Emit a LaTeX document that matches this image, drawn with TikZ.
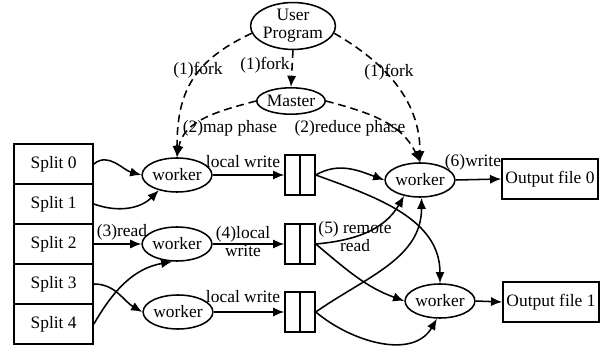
\documentclass[tikz,border=0pt]{standalone}
\usepackage{fontspec}
\setmainfont{Liberation Serif}
\usetikzlibrary{arrows.meta,shapes.geometric}

\begin{document}
\begin{tikzpicture}[
  font=\fontsize{12.4}{12.8}\selectfont,
  line width=1.1pt,
  split/.style={draw, minimum width=1.975cm, minimum height=1cm},
  wk/.style={draw, ellipse, inner sep=0pt, minimum width=1.7cm, minimum height=0.85cm},
  bar/.style={draw, minimum width=0.75cm, minimum height=1cm},
  outf/.style={draw, minimum width=2.4cm, minimum height=1cm, inner sep=1pt},
  lab/.style={inner sep=1pt, align=center},
  flow/.style={-{Latex[length=2.8mm,width=2.3mm]}},
  fork/.style={flow, dash pattern=on 5.5pt off 3.5pt}
]
\useasboundingbox (0,0) rectangle (15.2,8.8);
% control
\node[wk, align=center, minimum width=1.975cm, minimum height=1.1cm] (up) at (7.325,8.15) {User\\Program};
\node[wk, minimum height=0.66cm] (ms) at (7.275,6.275) {Master};
% input splits
\node[split] (s0) at (1.34,4.7) {Split 0};
\node[split] (s1) at (1.34,3.7) {Split 1};
\node[split] (s2) at (1.34,2.7) {Split 2};
\node[split] (s3) at (1.34,1.7) {Split 3};
\node[split] (s4) at (1.34,0.7) {Split 4};
% map workers
\node[wk] (w1) at (4.425,4.425) {worker};
\node[wk] (w2) at (4.425,2.7) {worker};
\node[wk] (w3) at (4.45,1.0) {worker};
% intermediate files
\node[bar] (b1) at (7.5,4.425) {};
\node[bar] (b2) at (7.5,2.7) {};
\node[bar] (b3) at (7.5,1.0) {};
\draw (b1.north) -- (b1.south);
\draw (b2.north) -- (b2.south);
\draw (b3.north) -- (b3.south);
% reduce workers and output
\node[wk] (r1) at (10.5,4.3) {worker};
\node[wk] (r2) at (11.0,1.275) {worker};
\node[outf] (o1) at (13.75,4.325) {Output file 0};
\node[outf] (o2) at (13.775,1.25) {Output file 1};

% fork and assign
\draw[fork] (up.190) to[out=205, in=90, looseness=1.15] (w1.north);
\draw[fork] (up.south) -- (ms.north);
\draw[fork] (up.-10) to[out=-30, in=90] (r1.north);
\draw[fork] (ms.west) to[out=195, in=80] (w1.north);
\draw[fork] (ms.east) to[out=-15, in=115] (r1.north);
\node[lab] (f1) at (4.95,7.05) {(1)fork};
\node[lab] (f2) at (6.625,7.175) {(1)fork};
\node[lab] (f3) at (9.725,7.0) {(1)fork};
\node[lab] (mp) at (5.75,5.6) {(2)map phase};
\node[lab] (rp) at (8.75,5.6) {(2)reduce phase};

% map side
\draw[flow] (s0.east) to[out=40, in=165] (w1.west);
\draw[flow] (s1.east) to[out=-20, in=-135] (w1.-140);
\draw[flow] (s2.east) -- (w2.west);
\draw[flow] (s3.east) to[out=0, in=150] (w3.west);
\draw[flow] (s4.east) to[out=60, in=190] (w2.-105);
\node[lab] (rd) at (3.05,3.0) {(3)read};
\draw[flow] (w1.east) -- (b1.west);
\draw[flow] (w2.east) -- (b2.west);
\draw[flow] (w3.east) -- (b3.west);
\node[lab] (lw1) at (6.075,4.75) {local write};
\node[lab] (lw2) at (6.075,2.75) {(4)local\\write};
\node[lab] (lw3) at (6.075,1.375) {local write};

% reduce side
\draw[flow] (b1.east) to[out=30, in=160] (r1.west);
\draw[flow] (b1.east) to[out=-20, in=90] (r2.north);
\draw[flow] (b2.east) to[out=5, in=-120] (r1.-135);
\draw[flow] (b2.east) to[out=-40, in=160] (r2.west);
\draw[flow] (b3.east) to[out=35, in=-90] (r1.-85);
\draw[flow] (b3.east) to[out=-40, in=-120] (r2.-100);
\node[lab] (rr) at (8.875,2.875) {(5) remote\\read};
\draw[flow] (r1.east) -- (o1.west);
\draw[flow] (r2.east) -- (o2.west);
\node[lab] (wr) at (11.825,4.75) {(6)write};
\end{tikzpicture}
\end{document}
